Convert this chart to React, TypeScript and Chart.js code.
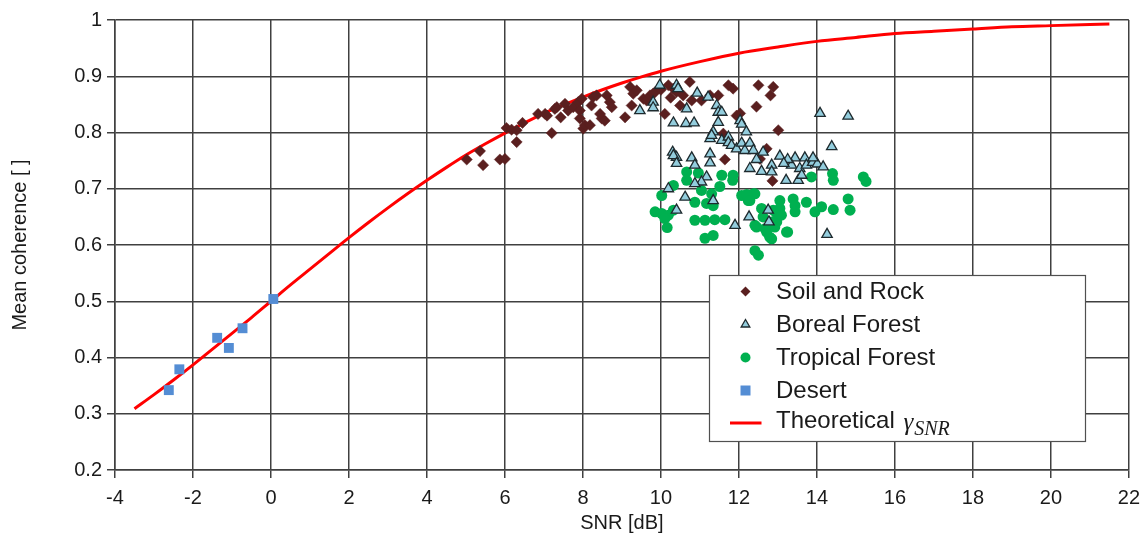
import React, { useEffect, useRef } from 'react';
import { Chart, registerables } from 'chart.js';

Chart.register(...registerables);

// Soil and Rock samples: SNR [dB] and mean coherence
const soilSnr = [
  5.02, 5.36, 5.44, 5.87, 6.0, 6.04, 6.17, 6.3, 6.3, 6.45, 6.85, 7.03, 7.08, 7.2, 7.28, 7.33,
  7.43, 7.54, 7.62, 7.75, 7.88, 7.92, 7.92, 7.97, 8.01, 8.05, 8.18, 8.22, 8.26, 8.35, 8.44, 8.48,
  8.56, 8.61, 8.69, 8.74, 9.08, 9.21, 9.25, 9.29, 9.38, 9.55, 9.63, 9.72, 9.8, 9.85, 10.0, 10.1,
  10.19, 10.25, 10.32, 10.4, 10.49, 10.57, 10.74, 10.79, 11.04, 11.26, 11.47, 11.73, 11.85, 11.94,
  12.03, 12.45, 12.5, 12.81, 12.88, 13.01, 12.71, 11.6, 11.64, 12.54, 12.86,
];
const soilCoh = [
  0.752, 0.767, 0.742, 0.752, 0.753, 0.808, 0.805, 0.804, 0.783, 0.817, 0.833, 0.833, 0.83, 0.799, 0.842, 0.845,
  0.827, 0.851, 0.839, 0.845, 0.854, 0.839, 0.825, 0.86, 0.807, 0.813, 0.813, 0.848, 0.863, 0.866, 0.833, 0.825,
  0.821, 0.866, 0.854, 0.845, 0.827, 0.881, 0.848, 0.869, 0.875, 0.86, 0.857, 0.866, 0.869, 0.872, 0.876, 0.833,
  0.884, 0.862, 0.878, 0.872, 0.848, 0.866, 0.89, 0.857, 0.857, 0.866, 0.866, 0.884, 0.878, 0.83,
  0.834, 0.846, 0.884, 0.866, 0.881, 0.804, 0.771, 0.798, 0.752, 0.753, 0.714,
];

// Boreal Forest samples
const borealSnr = [
  9.46, 9.8, 9.8, 9.97, 10.4, 10.44, 10.93, 11.21, 10.66, 11.43, 11.47, 11.56, 10.32, 10.64, 10.85, 11.47,
  12.03, 12.07, 12.19, 11.34, 11.26, 11.3, 11.56, 11.73, 11.73, 11.81, 11.94, 12.07, 12.15, 12.28, 12.37,
  10.3, 10.4, 10.79, 11.26, 14.08, 14.8, 14.38, 12.62, 13.05, 13.44, 13.69, 12.28, 12.58, 12.84, 12.84,
  13.21, 13.35, 13.52, 13.56, 13.61, 13.73, 13.89, 14.01, 14.16, 12.75, 12.26, 14.26, 10.32, 10.4, 10.87,
  11.26, 11.17, 11.04, 10.87, 10.19, 10.62, 11.34, 10.4, 11.9, 12.77, 12.45, 13.25, 13.9, 13.15,
];
const borealCoh = [
  0.839, 0.854, 0.844, 0.884, 0.884, 0.878, 0.87, 0.863, 0.842, 0.848, 0.836, 0.836, 0.817, 0.816, 0.817, 0.818,
  0.821, 0.815, 0.801, 0.801, 0.789, 0.795, 0.786, 0.792, 0.782, 0.777, 0.771, 0.781, 0.768, 0.781, 0.768,
  0.765, 0.756, 0.755, 0.762, 0.834, 0.829, 0.775, 0.765, 0.758, 0.755, 0.755, 0.736, 0.731, 0.742, 0.73,
  0.715, 0.742, 0.715, 0.736, 0.724, 0.742, 0.747, 0.744, 0.739, 0.662, 0.65, 0.619, 0.759, 0.745, 0.742,
  0.746, 0.721, 0.712, 0.709, 0.7, 0.685, 0.679, 0.662, 0.635, 0.641, 0.752, 0.752, 0.755, 0.745,
];

// Tropical Forest samples
const tropicalSnr = [
  10.66, 10.96, 10.66, 10.32, 11.56, 11.85, 11.84, 11.51, 11.04, 10.02, 11.3, 10.87, 11.17, 11.34, 12.07, 12.24,
  12.41, 9.85, 10.02, 10.19, 10.32, 10.1, 10.16, 10.87, 11.13, 11.38, 11.64, 11.13, 11.34, 12.41, 12.5, 12.41,
  12.62, 12.67, 12.84, 12.71, 12.84, 12.97, 13.05, 13.05, 13.22, 13.39, 13.44, 13.44, 13.73, 13.95, 14.12,
  14.42, 14.8, 14.85, 13.86, 14.4, 14.42, 15.19, 15.26, 12.37, 12.2, 12.28, 12.58, 12.88, 12.97, 13.09,
  12.92, 12.79, 12.45, 13.25,
];
const tropicalCoh = [
  0.73, 0.728, 0.715, 0.706, 0.724, 0.724, 0.715, 0.704, 0.697, 0.688, 0.691, 0.676, 0.674, 0.67, 0.688, 0.679,
  0.691, 0.659, 0.656, 0.653, 0.662, 0.647, 0.631, 0.644, 0.644, 0.645, 0.645, 0.612, 0.617, 0.59, 0.582, 0.635,
  0.65, 0.629, 0.611, 0.623, 0.641, 0.656, 0.679, 0.665, 0.623, 0.682, 0.67, 0.659, 0.676, 0.659, 0.668,
  0.663, 0.682, 0.662, 0.721, 0.727, 0.715, 0.721, 0.713, 0.691, 0.69, 0.679, 0.665, 0.662, 0.641, 0.653,
  0.632, 0.614, 0.632, 0.623,
];

// Desert samples
const desertSnr = [-2.62, -2.35, -1.38, -1.08, -0.73, 0.06];
const desertCoh = [0.342, 0.379, 0.435, 0.417, 0.452, 0.504];

// Theoretical coherence curve
const theoSnr = [
  -3.5, -3, -2.5, -2, -1.5, -1, -0.5, 0, 0.5, 1, 1.5, 2, 2.5, 3, 3.5, 4, 4.5, 5, 5.5, 6, 6.5, 7, 7.5, 8,
  8.5, 9, 9.5, 10, 11, 12, 13, 14, 15, 16, 17, 18, 19, 20, 21, 21.5,
];
const theoCoh = [
  0.309, 0.334, 0.36, 0.387, 0.415, 0.443, 0.471, 0.5, 0.529, 0.557, 0.585, 0.613, 0.64, 0.666, 0.691,
  0.715, 0.738, 0.76, 0.78, 0.799, 0.817, 0.834, 0.849, 0.863, 0.876, 0.888, 0.899, 0.909, 0.926, 0.941,
  0.952, 0.962, 0.969, 0.976, 0.98, 0.984, 0.988, 0.99, 0.992, 0.993,
];

// Axis ranges and ticks
const xMin = -4;
const xMax = 22;
const xStep = 2;
const yMin = 0.2;
const yMax = 1;
const yStep = 0.1;

const legendLabels = ['Soil and Rock', 'Boreal Forest', 'Tropical Forest', 'Desert', 'Theoretical'];

const SOIL = '#5A1F1F';
const BOREAL = '#93CDDD';
const BOREAL_EDGE = '#1E2A2E';
const TROPICAL = '#00B050';
const DESERT = '#548DD4';
const THEORY = '#FF0000';
const GRID = '#404040';
const TEXT = '#1a1a1a';
const SANS = '"Liberation Sans", Arial, sans-serif';
const SERIF = '"Liberation Serif", "DejaVu Serif", serif';

const pts = (xs: number[], ys: number[]) => xs.map((x, i) => ({ x, y: ys[i] }));

function drawMarker(ctx: CanvasRenderingContext2D, kind: number, cx: number, cy: number) {
  ctx.save();
  ctx.beginPath();
  if (kind === 0) {
    const r = 5;
    ctx.moveTo(cx, cy - r);
    ctx.lineTo(cx + r, cy);
    ctx.lineTo(cx, cy + r);
    ctx.lineTo(cx - r, cy);
    ctx.closePath();
    ctx.fillStyle = SOIL;
    ctx.fill();
  } else if (kind === 1) {
    const r = 5;
    const h = r * 1.5;
    const half = r * Math.sqrt(3) / 2;
    ctx.moveTo(cx, cy - r);
    ctx.lineTo(cx + half, cy + h - r);
    ctx.lineTo(cx - half, cy + h - r);
    ctx.closePath();
    ctx.fillStyle = BOREAL;
    ctx.fill();
    ctx.lineWidth = 1.3;
    ctx.strokeStyle = BOREAL_EDGE;
    ctx.stroke();
  } else if (kind === 2) {
    ctx.arc(cx, cy, 5, 0, Math.PI * 2);
    ctx.fillStyle = TROPICAL;
    ctx.fill();
  } else if (kind === 3) {
    ctx.rect(cx - 5, cy - 5, 10, 10);
    ctx.fillStyle = DESERT;
    ctx.fill();
  } else {
    ctx.moveTo(cx - 15.5, cy);
    ctx.lineTo(cx + 16, cy);
    ctx.lineWidth = 3;
    ctx.strokeStyle = THEORY;
    ctx.stroke();
  }
  ctx.restore();
}

// Boxed legend placed inside the plot area, lower right
const boxLegend = {
  id: 'boxLegend',
  afterDraw(chart: any) {
    const ctx: CanvasRenderingContext2D = chart.ctx;
    const bx = 709;
    const by = 275;
    const bw = 376;
    const bh = 166;
    ctx.save();
    ctx.fillStyle = '#ffffff';
    ctx.fillRect(bx, by, bw, bh);
    ctx.lineWidth = 1.2;
    ctx.strokeStyle = '#505050';
    ctx.strokeRect(bx + 0.5, by + 0.5, bw, bh);

    const rows = [291.5, 324.5, 357.5, 390.5, 423];
    ctx.textAlign = 'left';
    legendLabels.forEach((label, i) => {
      drawMarker(ctx, i, 745.5, rows[i]);
      ctx.fillStyle = TEXT;
      if (i < 4) {
        ctx.textBaseline = 'middle';
        ctx.font = `24px ${SANS}`;
        ctx.fillText(label, 776, rows[i] + 1);
      } else {
        ctx.textBaseline = 'alphabetic';
        ctx.font = `24px ${SANS}`;
        ctx.fillText(label, 776, rows[i] + 5);
        const w = ctx.measureText(label + ' ').width;
        ctx.font = `italic 25px ${SERIF}`;
        ctx.fillText('\u03B3', 776 + w + 2, rows[i] + 7);
        const gw = ctx.measureText('\u03B3').width;
        ctx.font = `italic 20px ${SERIF}`;
        ctx.fillText('SNR', 776 + w + 2 + gw + 1, rows[i] + 12);
      }
    });
    ctx.restore();
  },
};

export default function App() {
  const canvasRef = useRef<HTMLCanvasElement | null>(null);

  useEffect(() => {
    if (!canvasRef.current) return;
    const tickFont = { family: SANS, size: 20 };
    const chart = new Chart(canvasRef.current, {
      type: 'scatter',
      data: {
        datasets: [
          {
            label: 'Theoretical',
            data: pts(theoSnr, theoCoh),
            showLine: true,
            borderColor: THEORY,
            borderWidth: 3,
            pointRadius: 0,
            cubicInterpolationMode: 'monotone',
            order: 5,
          },
          {
            label: 'Soil and Rock',
            data: pts(soilSnr, soilCoh),
            pointStyle: 'rectRot',
            pointRadius: 5.6,
            backgroundColor: SOIL,
            borderColor: SOIL,
            borderWidth: 0.5,
            order: 4,
          },
          {
            label: 'Tropical Forest',
            data: pts(tropicalSnr, tropicalCoh),
            pointStyle: 'circle',
            pointRadius: 5.5,
            backgroundColor: TROPICAL,
            borderColor: TROPICAL,
            borderWidth: 0,
            order: 3,
          },
          {
            label: 'Boreal Forest',
            data: pts(borealSnr, borealCoh),
            pointStyle: 'triangle',
            pointRadius: 6,
            backgroundColor: BOREAL,
            borderColor: BOREAL_EDGE,
            borderWidth: 1.3,
            order: 2,
          },
          {
            label: 'Desert',
            data: pts(desertSnr, desertCoh),
            pointStyle: 'rect',
            pointRadius: 7,
            backgroundColor: DESERT,
            borderColor: DESERT,
            borderWidth: 0,
            order: 1,
          },
        ],
      },
      options: {
        animation: false,
        responsive: false,
        maintainAspectRatio: false,
        layout: { padding: { left: 0, right: 19, top: 20, bottom: 0 } },
        plugins: { legend: { display: false }, tooltip: { enabled: false } },
        scales: {
          x: {
            type: 'linear',
            min: xMin,
            max: xMax,
            ticks: { stepSize: xStep, font: tickFont, color: TEXT, padding: 8, maxRotation: 0 },
            grid: { color: GRID, lineWidth: 1.5, tickLength: 8, tickColor: GRID },
            border: { color: GRID, width: 1.5 },
            title: { display: true, text: 'SNR [dB]', font: tickFont, color: TEXT, padding: { top: 0, bottom: 5 } },
            afterFit: (s: any) => {
              s.height = 70;
            },
          },
          y: {
            type: 'linear',
            min: yMin,
            max: yMax,
            ticks: {
              stepSize: yStep,
              font: tickFont,
              color: TEXT,
              padding: 5,
              callback: (v: any) => String(Math.round(Number(v) * 10) / 10),
            },
            grid: { color: GRID, lineWidth: 1.5, tickLength: 8, tickColor: GRID },
            border: { color: GRID, width: 1.5 },
            title: { display: true, text: 'Mean coherence [ ]', font: tickFont, color: TEXT, padding: { top: 8, bottom: 0 } },
            afterFit: (s: any) => {
              s.width = 115;
            },
          },
        },
      },
      plugins: [boxLegend],
    } as any);
    return () => chart.destroy();
  }, []);

  return (
    <div style={{ position: 'fixed', left: 0, top: 0, width: 1148, height: 540, background: '#ffffff' }}>
      <canvas ref={canvasRef} width={1148} height={540} style={{ display: 'block' }} />
    </div>
  );
}
